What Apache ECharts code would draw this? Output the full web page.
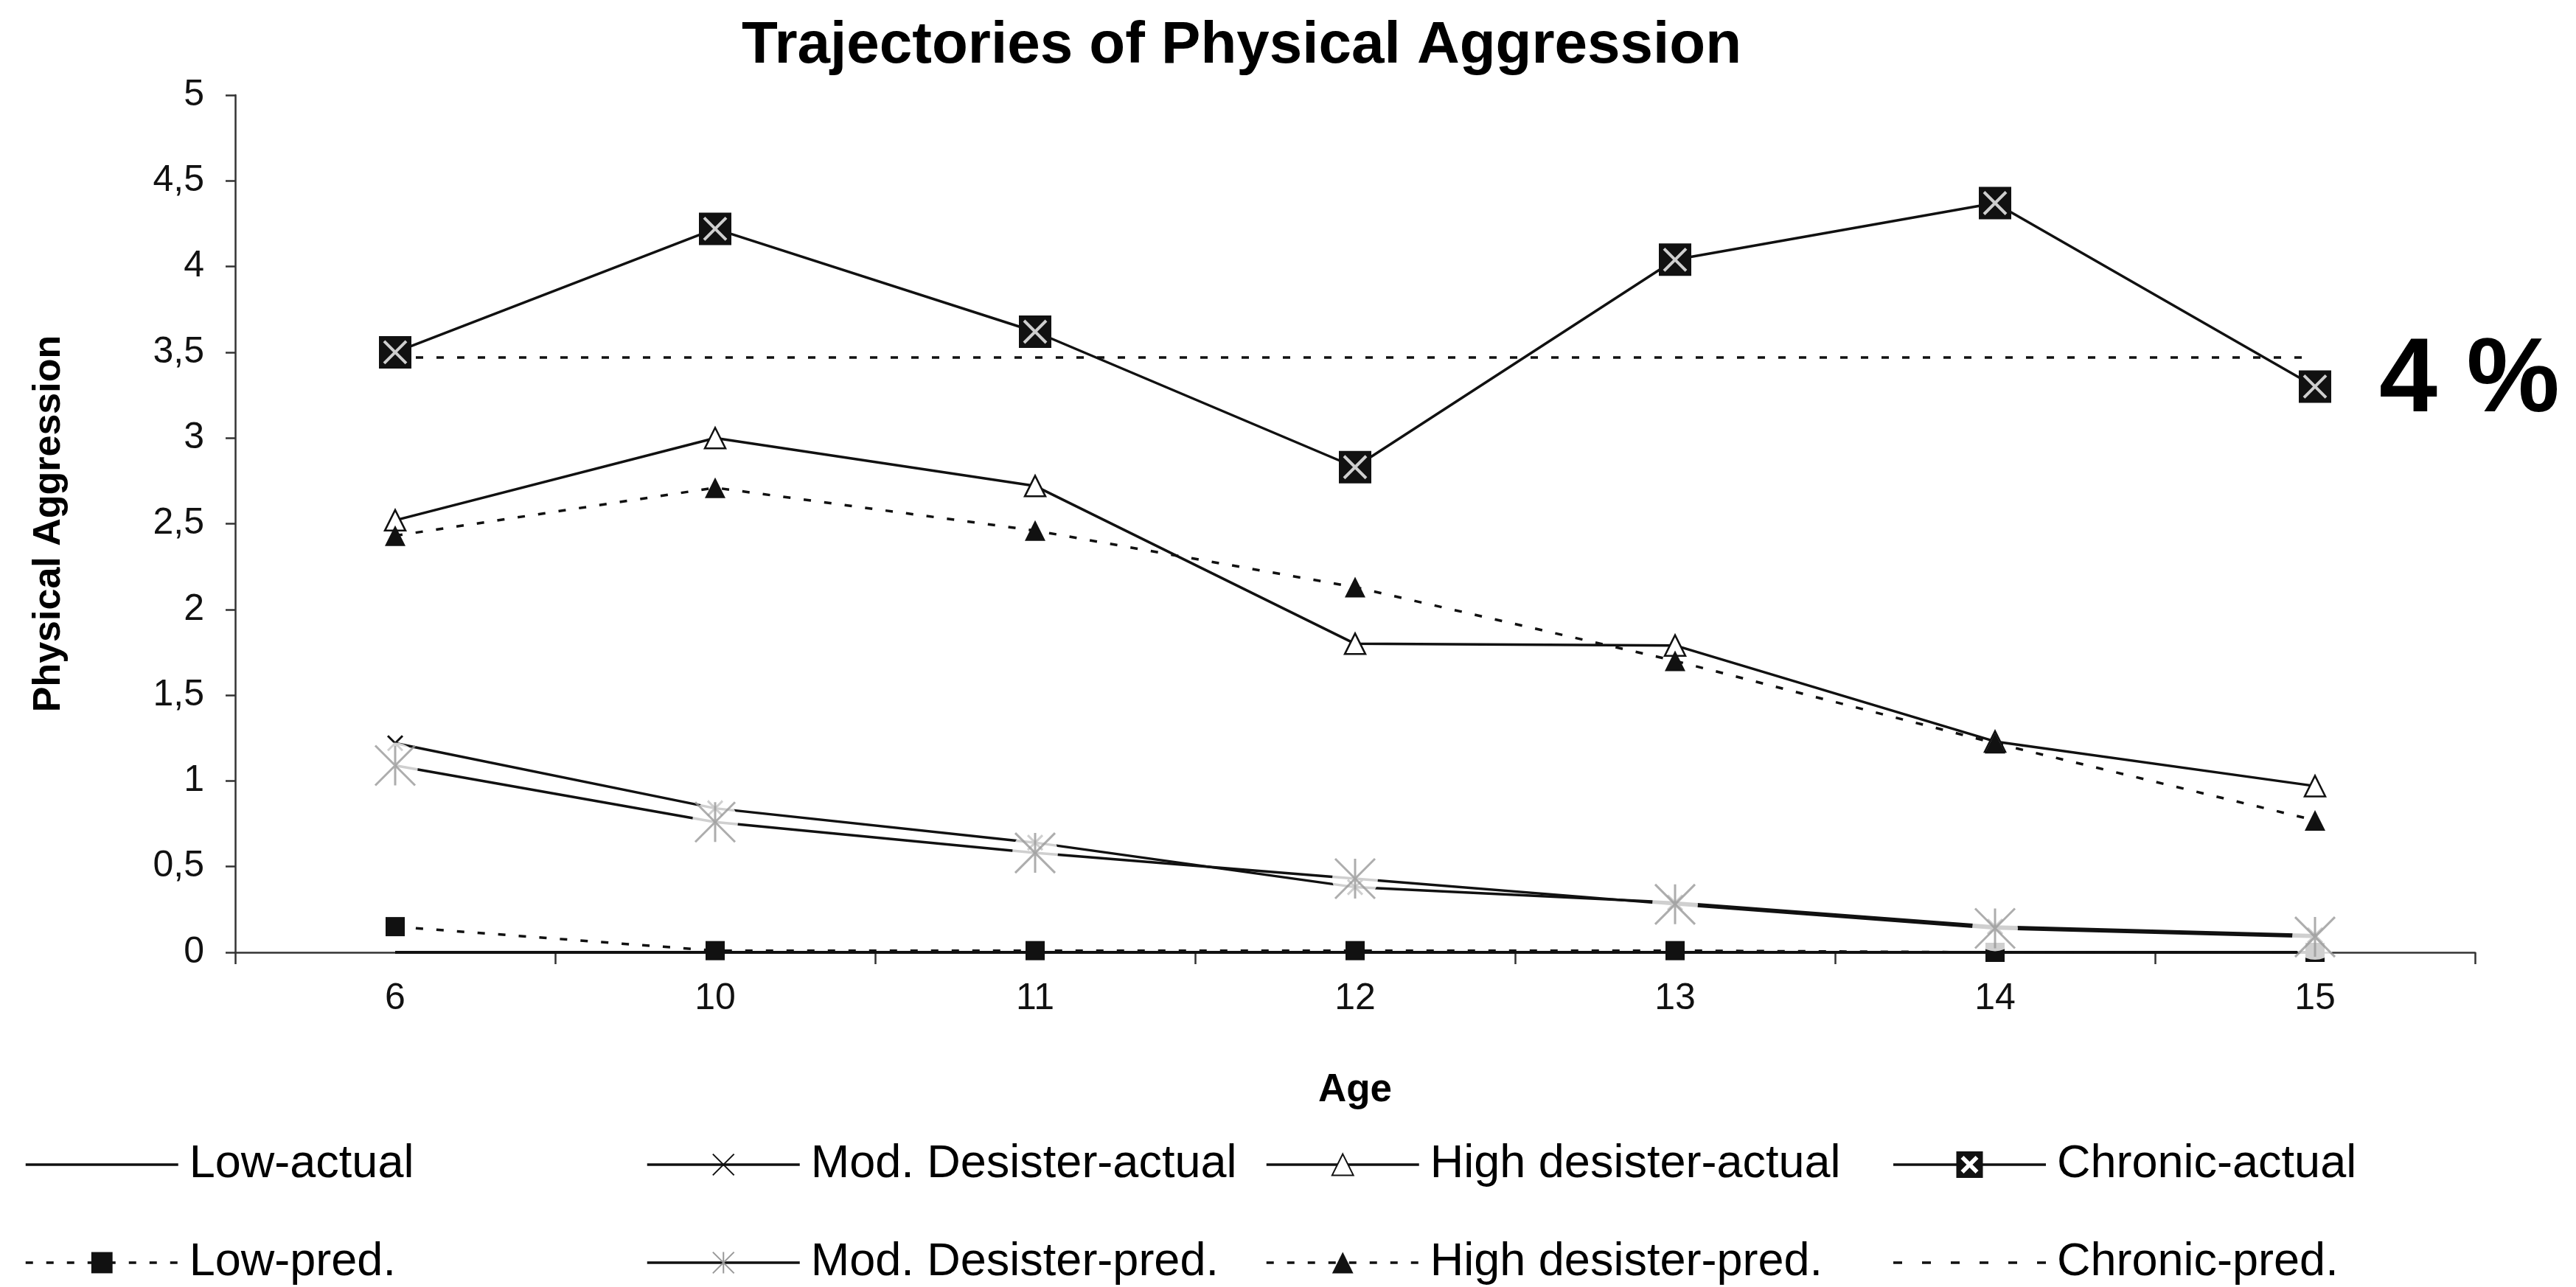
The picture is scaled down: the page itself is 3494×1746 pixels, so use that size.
<!DOCTYPE html>
<html>
<head>
<meta charset="utf-8">
<style>
html,body{margin:0;padding:0;background:#fff;}
#chart{width:3494px;height:1746px;}
</style>
<script src="https://cdn.jsdelivr.net/npm/echarts@6/dist/echarts.min.js"></script>
</head>
<body>
<div id="chart"></div>
<script>
// ---- data ----
const ages = ['6', '10', '11', '12', '13', '14', '15'];
const yTickLabels = ['0', '0,5', '1', '1,5', '2', '2,5', '3', '3,5', '4', '4,5', '5'];
const lowActual = [0, 0, 0, 0, 0, 0, 0];
const lowPred = [0.15, 0.01, 0.01, 0.01, 0.01, 0.0, 0.0];
const modActual = [1.22, 0.84, 0.64, 0.38, 0.29, 0.15, 0.10];
const modPred = [1.09, 0.76, 0.58, 0.43, 0.28, 0.14, 0.09];
const highActual = [2.52, 3.00, 2.72, 1.80, 1.79, 1.23, 0.97];
const highPred = [2.43, 2.71, 2.46, 2.13, 1.70, 1.22, 0.77];
const chronicActual = [3.50, 4.22, 3.62, 2.83, 4.04, 4.37, 3.30];
const chronicPred = [3.47, 3.47, 3.47, 3.47, 3.47, 3.47, 3.47];
const chronicShare = '4 %';
const titleText = 'Trajectories of Physical Aggression';
const xName = 'Age';
const yName = 'Physical Aggression';
const names = {
  lowA: 'Low-actual', modA: 'Mod. Desister-actual', highA: 'High desister-actual', chrA: 'Chronic-actual',
  lowP: 'Low-pred.', modP: 'Mod. Desister-pred.', highP: 'High desister-pred.', chrP: 'Chronic-pred.'
};

// ---- styling ----
const FONT = '"Liberation Sans", Arial, Helvetica, sans-serif';
const INK = '#111';
const DOT = [10, 18];
const LW = 3.5;
const xPath = 'path://M0 0 L10 10 M10 0 L0 10';
const asteriskPath = 'path://M27 0 L27 54 M0 0 L54 54 M54 0 L0 54';
const solidIcon = 'path://M0 0 H207 V3.5 H0 Z';
const dottedIcon = 'path://M0 0h12v3.5h-12z M39 0h12v3.5h-12z M78 0h12v3.5h-12z M117 0h12v3.5h-12z M156 0h12v3.5h-12z M195 0h12v3.5h-12z';
const chronicIcon = 'path://M0 16.25 H85.5 V19.75 H0 Z M121.5 16.25 H207 V19.75 H121.5 Z M85.5 0 H121.5 V36 H85.5 Z ' +
  'M91.5 10 L99.5 18 L91.5 26 L95.5 30 L103.5 22 L111.5 30 L115.5 26 L107.5 18 L115.5 10 L111.5 6 L103.5 14 L95.5 6 Z';

const chart = echarts.init(document.getElementById('chart'), null, {renderer: 'canvas'});

function legendCol(left, items) {
  return {
    orient: 'vertical', left: left, top: 1547, padding: 0,
    itemWidth: 207, itemHeight: 36, itemGap: 67,
    selectedMode: false,
    lineStyle: {color: INK, width: LW},
    textStyle: {fontSize: 63, color: '#000', fontFamily: FONT, lineHeight: 66, padding: [0, 0, 0, 10]},
    data: items
  };
}

const option = {
  animation: false,
  backgroundColor: '#fff',
  title: {
    text: titleText, left: 1001, top: 18,
    textStyle: {fontSize: 80, fontWeight: 'bold', color: '#000', fontFamily: FONT}
  },
  grid: {left: 319, right: 137, top: 129, bottom: 454, containLabel: false},
  legend: [
    legendCol(33, [{name: names.lowA, icon: solidIcon}, names.lowP]),
    legendCol(876, [names.modA, names.modP]),
    legendCol(1716, [names.highA, names.highP]),
    legendCol(2568, [{name: names.chrA, icon: chronicIcon}, {name: names.chrP, icon: dottedIcon}])
  ],
  xAxis: {
    type: 'category', data: ages, boundaryGap: true,
    name: xName, nameLocation: 'middle', nameGap: 161,
    nameTextStyle: {fontSize: 53, fontWeight: 'bold', color: '#000', fontFamily: FONT},
    axisLine: {lineStyle: {color: '#333', width: 2.5}},
    axisTick: {show: true, length: 16, lineStyle: {color: '#333', width: 2.5}},
    axisLabel: {fontSize: 50, color: '#111', margin: 38, fontFamily: FONT},
    splitLine: {show: false}
  },
  yAxis: {
    type: 'value', min: 0, max: 5, interval: 0.5,
    name: yName, nameLocation: 'middle', nameGap: 226,
    nameTextStyle: {fontSize: 52, fontWeight: 'bold', color: '#000', fontFamily: FONT},
    axisLine: {show: true, lineStyle: {color: '#333', width: 2.5}},
    axisTick: {show: true, length: 13, lineStyle: {color: '#333', width: 2.5}},
    axisLabel: {
      fontSize: 50, color: '#111', margin: 42, fontFamily: FONT,
      formatter: function (v) { return yTickLabels[Math.round(v / 0.5)]; }
    },
    splitLine: {show: false}
  },
  series: [
    {
      name: names.lowA, type: 'line', data: lowActual, symbol: 'none', z: 2,
      lineStyle: {color: INK, width: 4}, itemStyle: {color: INK}
    },
    {
      name: names.lowP, type: 'line', data: lowPred, symbol: 'rect', symbolSize: 26, z: 2,
      lineStyle: {color: INK, width: LW, type: DOT}, itemStyle: {color: INK}
    },
    {
      name: names.modA, type: 'line', data: modActual, symbol: xPath, symbolSize: 20, z: 2,
      lineStyle: {color: INK, width: LW}, itemStyle: {color: INK, borderColor: INK, borderWidth: 3}
    },
    {
      name: names.modP, type: 'line', data: modPred, symbol: asteriskPath, showSymbol: false, z: 2,
      lineStyle: {color: INK, width: LW}, itemStyle: {color: '#999', borderColor: '#999', borderWidth: 3}
    },
    {
      name: names.highA, type: 'line', data: highActual, symbol: 'triangle', symbolSize: 28, z: 2,
      lineStyle: {color: INK, width: LW}, itemStyle: {color: '#fff', borderColor: INK, borderWidth: 2.5}
    },
    {
      name: names.highP, type: 'line', data: highPred, symbol: 'triangle', symbolSize: 28, z: 2,
      lineStyle: {color: INK, width: LW, type: DOT}, itemStyle: {color: INK}
    },
    {
      name: names.chrA, type: 'line', data: chronicActual, symbol: 'rect', symbolSize: 44, z: 2,
      lineStyle: {color: INK, width: LW}, itemStyle: {color: INK}
    },
    {
      name: names.chrP, type: 'line', data: chronicPred, symbol: 'none', z: 2,
      lineStyle: {color: INK, width: LW, type: DOT}, itemStyle: {color: INK},
      endLabel: {
        show: true, formatter: chronicShare, fontSize: 142, fontWeight: 'bold', color: '#000',
        fontFamily: FONT, distance: 87, align: 'left', verticalAlign: 'middle', offset: [0, 34]
      }
    },
    // white X inside the chronic squares
    {
      name: 'chronic-x', type: 'scatter', data: chronicActual, symbol: xPath, symbolSize: 30, z: 5, silent: true,
      itemStyle: {color: '#fff', borderColor: '#fff', borderWidth: 4}
    },
    // white halo behind the asterisks
    {
      name: 'mod-halo', type: 'scatter', data: modPred, symbol: 'circle', symbolSize: 62, z: 3, silent: true,
      itemStyle: {color: '#fff'}
    },
    // grey asterisks
    {
      name: 'mod-star', type: 'scatter', data: modPred, symbol: asteriskPath, symbolSize: 54, z: 4, silent: true,
      itemStyle: {color: '#999', borderColor: '#999', borderWidth: 3}
    }
  ]
};
chart.setOption(option);
</script>
</body>
</html>
